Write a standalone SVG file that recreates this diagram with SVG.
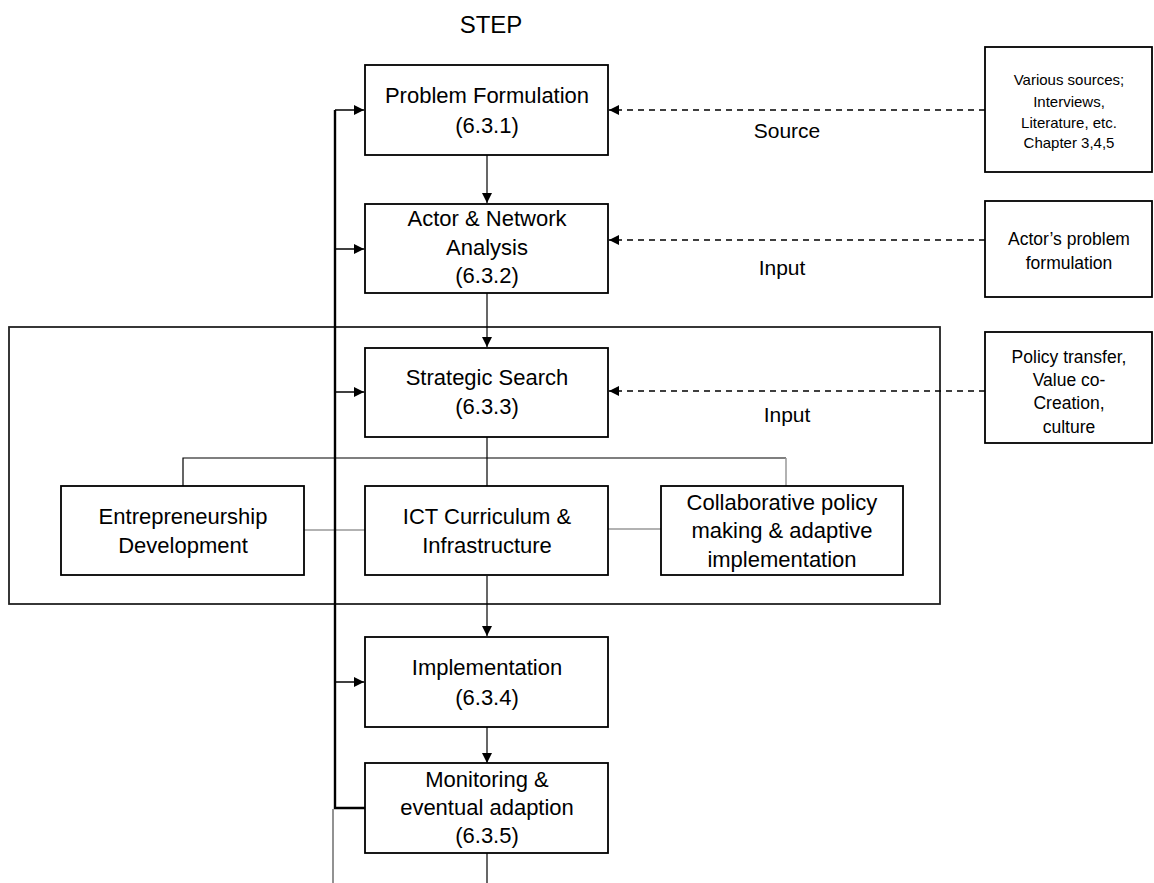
<svg xmlns="http://www.w3.org/2000/svg" width="1154" height="883" viewBox="0 0 1154 883">
<style>
.box{fill:#fff;stroke:#000;stroke-width:1.8}
.frame{fill:none;stroke:#222;stroke-width:1.8}
.t{font-family:"Liberation Sans",Arial,sans-serif;font-size:22px;fill:#000;text-anchor:middle}
.s{font-size:15px}
.m{font-size:17.5px}
.conn{stroke:#000;stroke-width:1.2;fill:none}
.dash{stroke:#000;stroke-width:1.6;stroke-dasharray:6 5;fill:none}
.fb{stroke:#000;stroke-width:2.4;fill:none}
.fbin{stroke:#000;stroke-width:1.5;fill:none}
.gray{stroke:#999;stroke-width:1.5;fill:none}
.tail{stroke:#777;stroke-width:1.6;fill:none}
</style>
<defs>
<marker id="ah" markerUnits="userSpaceOnUse" markerWidth="10" markerHeight="10" refX="10" refY="5" orient="auto" viewBox="0 0 10 10"><path d="M0,0 L10,5 L0,10 z" fill="#000"/></marker>
</defs>
<rect width="1154" height="883" fill="#fff"/>
<g id="title"><text class="t" x="491" y="33" style="font-size:24px">STEP</text></g>
<g id="strategy-frame"><rect class="frame" x="9" y="327" width="931" height="277"/></g>
<g id="connectors">
<line class="conn" x1="487" y1="155" x2="487" y2="203" marker-end="url(#ah)"/>
<line class="conn" x1="487" y1="293" x2="487" y2="347" marker-end="url(#ah)"/>
<line class="conn" x1="487" y1="437" x2="487" y2="486"/>
<polyline class="conn" points="183,486 183,458 786,458"/>
<line class="gray" x1="786" y1="458" x2="786" y2="486"/>
<line class="gray" x1="304" y1="530" x2="365" y2="530"/>
<line class="gray" x1="608" y1="529" x2="661" y2="529"/>
<line class="conn" x1="487" y1="576" x2="487" y2="636" marker-end="url(#ah)"/>
<line class="conn" x1="487" y1="727" x2="487" y2="763" marker-end="url(#ah)"/>
<line class="conn" x1="487" y1="853" x2="487" y2="883"/>
<line class="dash" x1="985" y1="110" x2="609" y2="110" marker-end="url(#ah)"/>
<line class="dash" x1="985" y1="240" x2="609" y2="240" marker-end="url(#ah)"/>
<line class="dash" x1="985" y1="391" x2="609" y2="391" marker-end="url(#ah)"/>
<polyline class="fb" points="365,808 335,808 335,110"/>
<line class="tail" x1="333" y1="809" x2="333" y2="883"/>
<line class="fbin" x1="335" y1="110" x2="364" y2="110" marker-end="url(#ah)"/>
<line class="fbin" x1="335" y1="249" x2="364" y2="249" marker-end="url(#ah)"/>
<line class="fbin" x1="335" y1="392" x2="364" y2="392" marker-end="url(#ah)"/>
<line class="fbin" x1="335" y1="682" x2="364" y2="682" marker-end="url(#ah)"/>
<text class="t" x="787" y="138" style="font-size:21px">Source</text>
<text class="t" x="782" y="275" style="font-size:21px">Input</text>
<text class="t" x="787" y="422" style="font-size:21px">Input</text>
</g>
<g id="problem-formulation"><rect class="box" x="365" y="65" width="243" height="90"/>
<text class="t" x="487" y="103">Problem Formulation</text><text class="t" x="487" y="133">(6.3.1)</text></g>
<g id="actor-network"><rect class="box" x="365" y="204" width="243" height="89"/>
<text class="t" x="487" y="226">Actor &amp; Network</text><text class="t" x="487" y="255">Analysis</text><text class="t" x="487" y="283">(6.3.2)</text></g>
<g id="strategic-search"><rect class="box" x="365" y="348" width="243" height="89"/>
<text class="t" x="487" y="385">Strategic Search</text><text class="t" x="487" y="414">(6.3.3)</text></g>
<g id="entrepreneurship"><rect class="box" x="61" y="486" width="243" height="89"/>
<text class="t" x="183" y="524">Entrepreneurship</text><text class="t" x="183" y="553">Development</text></g>
<g id="ict"><rect class="box" x="365" y="486" width="243" height="89"/>
<text class="t" x="487" y="524">ICT Curriculum &amp;</text><text class="t" x="487" y="553">Infrastructure</text></g>
<g id="collaborative"><rect class="box" x="661" y="486" width="242" height="89"/>
<text class="t" x="782" y="510">Collaborative policy</text><text class="t" x="782" y="538">making &amp; adaptive</text><text class="t" x="782" y="567">implementation</text></g>
<g id="implementation"><rect class="box" x="365" y="637" width="243" height="90"/>
<text class="t" x="487" y="675">Implementation</text><text class="t" x="487" y="705">(6.3.4)</text></g>
<g id="monitoring"><rect class="box" x="365" y="763" width="243" height="90"/>
<text class="t" x="487" y="787">Monitoring &amp;</text><text class="t" x="487" y="815">eventual adaption</text><text class="t" x="487" y="843">(6.3.5)</text></g>
<g id="various-sources"><rect class="box" x="985" y="47" width="167" height="125"/>
<text class="t s" x="1069" y="85">Various sources;</text><text class="t s" x="1069" y="107">Interviews,</text><text class="t s" x="1069" y="128">Literature, etc.</text><text class="t s" x="1069" y="148">Chapter 3,4,5</text></g>
<g id="actors-problem"><rect class="box" x="985" y="201" width="167" height="96"/>
<text class="t m" x="1069" y="245">Actor’s problem</text><text class="t m" x="1069" y="269">formulation</text></g>
<g id="policy-transfer"><rect class="box" x="985" y="332" width="167" height="111"/>
<text class="t m" x="1069" y="363">Policy transfer,</text><text class="t m" x="1069" y="386">Value co-</text><text class="t m" x="1069" y="409">Creation,</text><text class="t m" x="1069" y="433">culture</text></g>
</svg>
